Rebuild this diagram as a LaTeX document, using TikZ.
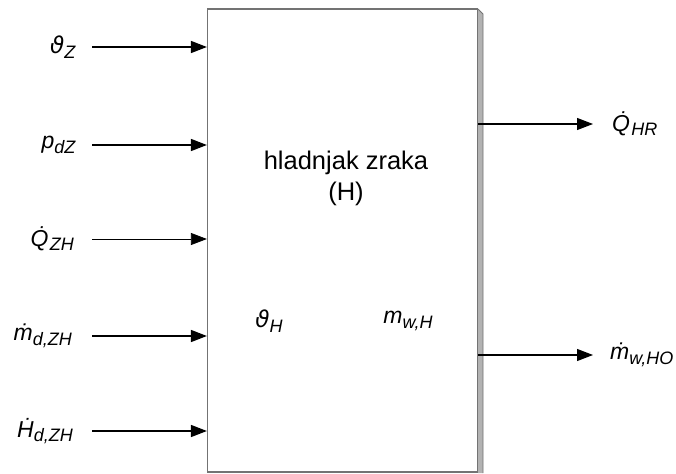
\documentclass[tikz,border=0pt]{standalone}
\usepackage{fontspec}
\setmainfont{Liberation Sans}
\newfontfamily\grfont{DejaVu Sans}
\usetikzlibrary{arrows.meta}

\newcommand{\vsub}[2]{\textit{#1}\raisebox{-0.2em}{\fontsize{18}{18}\selectfont\textit{#2}}}
\newcommand{\thet}{{\grfont\itshape ϑ}}

\tikzset{
  varlbl/.style = {inner sep=0pt, font=\fontsize{23}{27}\selectfont},
  flow/.style   = {line width=1.5pt, -{Triangle[length=16pt,width=12pt]}},
  thinflow/.style = {line width=0.8pt, -{Triangle[length=16pt,width=12pt]}},
  unitbox/.style = {draw=black!55, line width=1.2pt, fill=white,
                    minimum width=270pt, minimum height=463pt, inner sep=0pt}
}

\begin{document}
\begin{tikzpicture}[x=1pt, y=-1pt]
\useasboundingbox (0,0) rectangle (676,473);
% shadow on the right side
\fill[black!30] (478,9) -- (483,14) -- (483,473) -- (478,473) -- cycle;
\draw[black!55, line width=0.8pt] (478,9) -- (483,14) -- (483,473);
\node[unitbox] (hl) at (342.5,240.5) {};
\node[align=center, font=\fontsize{25.5}{31}\selectfont] (title) at (346,178)
  {hladnjak zraka\\(H)};
\node[varlbl] (thH) at (269,321) {\vsub{\thet}{H}};
\node[varlbl] (mwH) at (408,321) {\vsub{m}{w,H}};

% inputs
\coordinate (src) at (92,0);
\node[varlbl, anchor=east] (thZ) at (76,47)  {\vsub{\thet}{Z}};
\node[varlbl, anchor=east] (pdZ) at (76,145) {\vsub{p}{dZ}};
\node[varlbl, anchor=east] (QZH) at (74,239) {\vsub{\.{Q}}{ZH}};
\node[varlbl, anchor=east] (mdZH) at (72,336) {\vsub{\.{m}}{d,ZH}};
\node[varlbl, anchor=east] (HdZH) at (73,431) {\vsub{\.{H}}{d,ZH}};
\draw[flow] (thZ -| src) -- (thZ -| hl.west);
\draw[flow] (pdZ -| src) -- (pdZ -| hl.west);
\draw[thinflow] (QZH -| src) -- (QZH -| hl.west);
\draw[flow] (mdZH -| src) -- (mdZH -| hl.west);
\draw[flow] (HdZH -| src) -- (HdZH -| hl.west);

% outputs
\coordinate (dst) at (593,0);
\node[varlbl, anchor=west] (QHR) at (612,124) {\vsub{\.{Q}}{HR}};
\node[varlbl, anchor=west] (mwHO) at (610,355) {\vsub{\.{m}}{w,HO}};
\draw[flow, line width=1.1pt] (QHR -| hl.east) -- (QHR -| dst);
\draw[flow, line width=1.1pt] (mwHO -| hl.east) -- (mwHO -| dst);
\end{tikzpicture}
\end{document}
